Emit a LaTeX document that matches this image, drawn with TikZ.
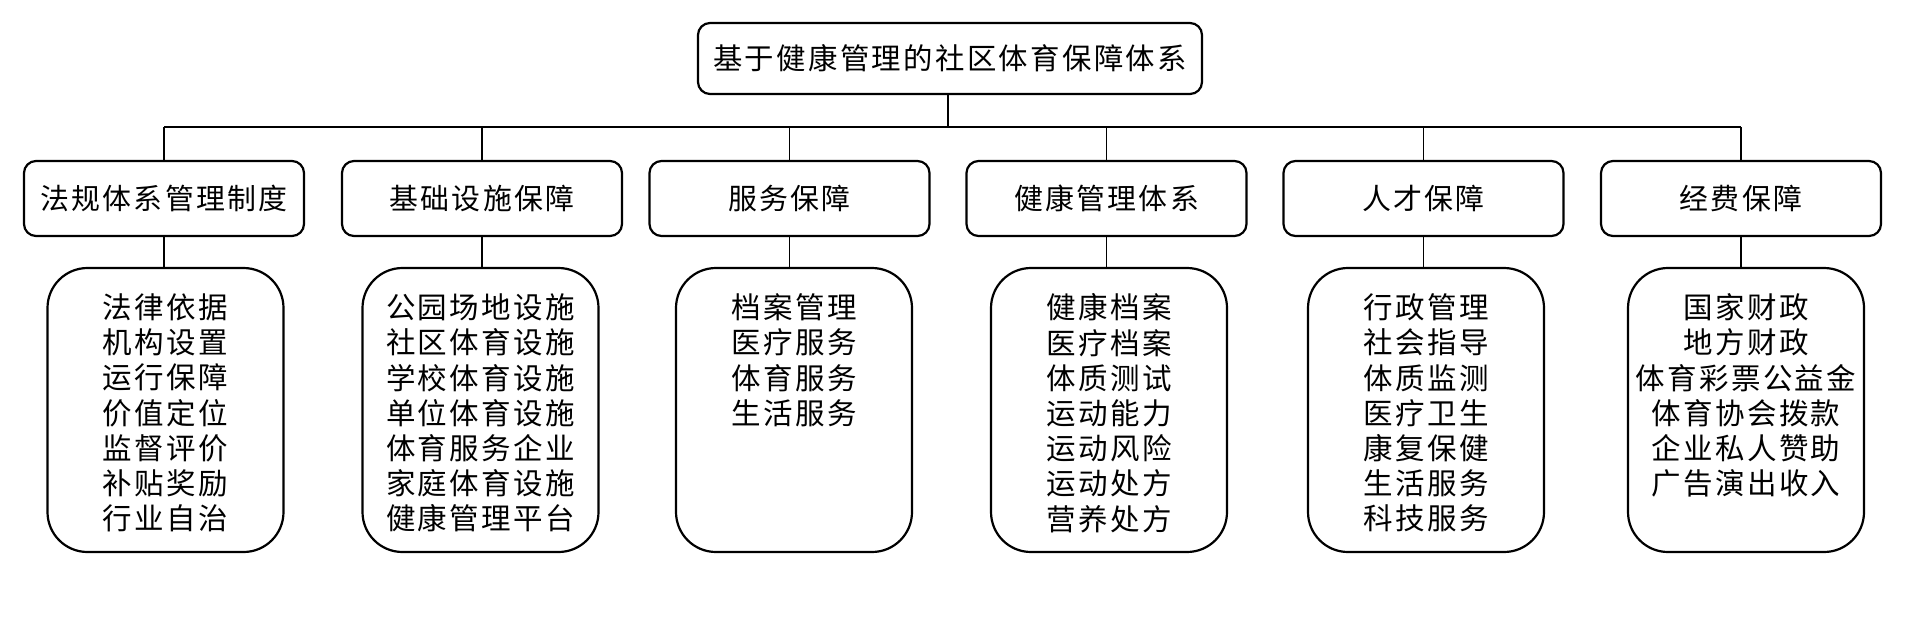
\documentclass[tikz,border=0pt]{standalone}
\usepackage{fontspec}
\newfontfamily\cjk[LetterSpace=8]{Noto Sans CJK SC}
\begin{document}
\begin{tikzpicture}[x=1pt,y=-1pt,
  box/.style={draw, line width=2.2pt, rounded corners=12pt, inner sep=0pt},
  head/.style={box, minimum width=280pt, minimum height=75pt, font=\cjk\fontsize{28.9}{34}\selectfont},
  bigbox/.style={draw, line width=2.2pt, rounded corners=40pt, inner sep=0pt, minimum width=236pt, minimum height=284pt},
  list/.style={inner sep=0pt, align=center, anchor=north, font=\cjk\fontsize{29.5}{35.2}\selectfont},
  link/.style={line width=1.4pt}]
\useasboundingbox (0,0) rectangle (1908,619);
\node[box, minimum width=504pt, minimum height=71pt, font=\cjk\fontsize{29.4}{36}\selectfont] (top) at (950,58.5) {基于健康管理的社区体育保障体系};
\coordinate (bus) at (0,127);
% second row
\node[head] (h1) at (164,198.5) {法规体系管理制度};
\node[head] (h2) at (482,198.5) {基础设施保障};
\node[head] (h3) at (789.5,198.5) {服务保障};
\node[head] (h4) at (1106.5,198.5) {健康管理体系};
\node[head] (h5) at (1423.5,198.5) {人才保障};
\node[head] (h6) at (1741,198.5) {经费保障};
% third row
\node[bigbox] (b1) at (165.5,410) {};
\node[bigbox] (b2) at (480.5,410) {};
\node[bigbox] (b3) at (794,410) {};
\node[bigbox] (b4) at (1109,410) {};
\node[bigbox] (b5) at (1426,410) {};
\node[bigbox] (b6) at (1746,410) {};
\node[list] (t1) at ([yshift=-26.7pt]b1.north) {法律依据\\机构设置\\运行保障\\价值定位\\监督评价\\补贴奖励\\行业自治};
\node[list] (t2) at ([yshift=-26.7pt]b2.north) {公园场地设施\\社区体育设施\\学校体育设施\\单位体育设施\\体育服务企业\\家庭体育设施\\健康管理平台};
\node[list] (t3) at ([yshift=-26.7pt]b3.north) {档案管理\\医疗服务\\体育服务\\生活服务};
\node[list] (t4) at ([yshift=-26.7pt]b4.north) {健康档案\\医疗档案\\体质测试\\运动能力\\运动风险\\运动处方\\营养处方};
\node[list] (t5) at ([yshift=-26.7pt]b5.north) {行政管理\\社会指导\\体质监测\\医疗卫生\\康复保健\\生活服务\\科技服务};
\node[list] (t6) at ([yshift=-26.7pt]b6.north) {国家财政\\地方财政\\体育彩票公益金\\体育协会拨款\\企业私人赞助\\广告演出收入};
% connectors
\draw[link] ([xshift=-2pt]top.south) -- ([xshift=-2pt]top.south |- bus);
\draw[link] (h1.north |- bus) -- (h6.north |- bus);
\foreach \i in {1,...,6}{
  \draw[link] (h\i.north) -- (h\i.north |- bus);
  \draw[link] (h\i.south) -- (h\i.south |- b\i.north);
}
\end{tikzpicture}
\end{document}
